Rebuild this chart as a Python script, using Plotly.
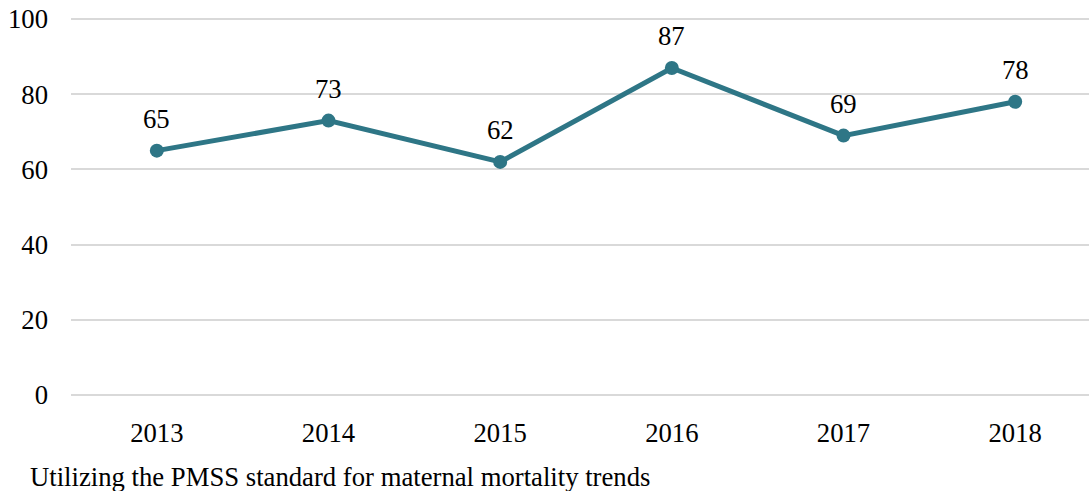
import plotly.graph_objects as go

years = ["2013", "2014", "2015", "2016", "2017", "2018"]
values = [65, 73, 62, 87, 69, 78]
caption = "Utilizing the PMSS standard for maternal mortality trends"

color = "#2E7686"
font = "Times New Roman"
fsize = 26.7

fig = go.Figure()
fig.add_trace(go.Scatter(
    x=list(range(len(years))), y=values, mode="lines+markers",
    line=dict(color=color, width=5), marker=dict(color=color, size=14),
    hoverinfo="skip", showlegend=False,
))

for i, v in enumerate(values):
    fig.add_annotation(x=i, y=v, xref="x", yref="y", text=str(v), showarrow=False,
                       yshift=32, font=dict(family=font, size=fsize, color="#000000"))

fig.add_annotation(xref="paper", yref="paper", x=-0.042, y=-0.215, xanchor="left", yanchor="middle",
                   text=caption, showarrow=False, font=dict(family=font, size=fsize, color="#000000"))

fig.update_xaxes(tickmode="array", tickvals=list(range(len(years))), ticktext=years,
                 range=[-0.5, 5.43], showgrid=False, zeroline=False, showline=False, automargin=False,
                 ticks="", ticklabelstandoff=18, ticklabeloverflow="allow",
                 tickfont=dict(family=font, size=fsize, color="#000000"))
fig.update_yaxes(range=[-0.3, 100.3], tickvals=[0, 20, 40, 60, 80, 100], showgrid=True,
                 gridcolor="#d9d9d9", gridwidth=2, zeroline=False, showline=False, ticks="", automargin=False,
                 ticklabelstandoff=22, ticklabeloverflow="allow",
                 tickfont=dict(family=font, size=fsize, color="#000000"))

fig.update_layout(width=1089, height=491, margin=dict(l=71, r=0, t=18, b=95),
                  plot_bgcolor="white", paper_bgcolor="white", font=dict(family=font))

fig.write_html("out.html", config={"displayModeBar": False},
               post_script="document.body.style.margin='0';document.body.style.overflow='hidden';")
